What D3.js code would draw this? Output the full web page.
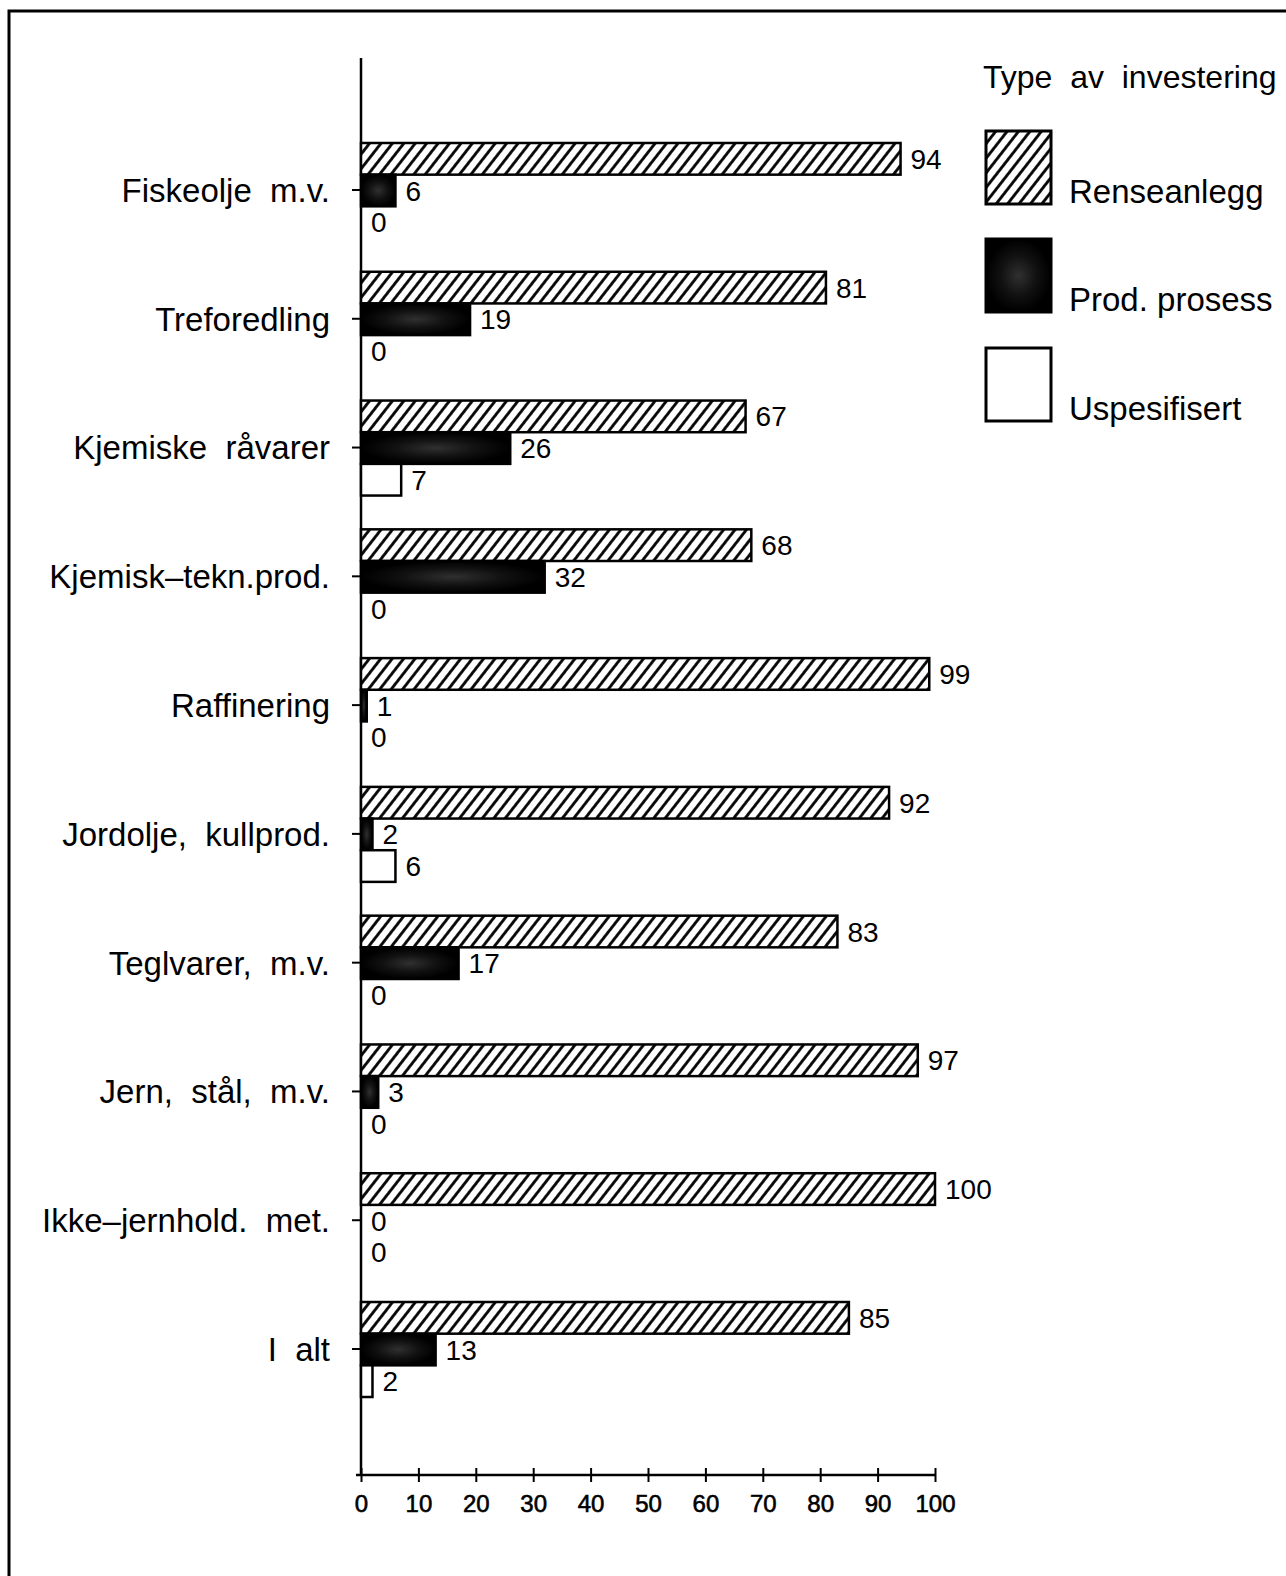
<!DOCTYPE html>
<html>
<head>
<meta charset="utf-8">
<style>
  body { margin: 0; background: #fff; }
  svg text { font-family: "Liberation Sans", Arial, sans-serif; fill: #000; }
</style>
</head>
<body>
<div id="container"></div>
<script src="https://cdn.jsdelivr.net/npm/d3@7"></script>
<script>
// Andel av investeringene etter type (prosent)
const categories = [
  "Fiskeolje  m.v.",
  "Treforedling",
  "Kjemiske  råvarer",
  "Kjemisk–tekn.prod.",
  "Raffinering",
  "Jordolje,  kullprod.",
  "Teglvarer,  m.v.",
  "Jern,  stål,  m.v.",
  "Ikke–jernhold.  met.",
  "I  alt"
];
const seriesNames = ["Renseanlegg", "Prod. prosess", "Uspesifisert"];
const renseanlegg = [94, 81, 67, 68, 99, 92, 83, 97, 100, 85];
const prodProsess = [6, 19, 26, 32, 1, 2, 17, 3, 0, 13];
const uspesifisert = [0, 0, 7, 0, 0, 6, 0, 0, 0, 2];
const xTicks = [0, 10, 20, 30, 40, 50, 60, 70, 80, 90, 100];

const width = 1286, height = 1576;
const svg = d3.select("#container")
  .append("svg")
  .attr("width", width)
  .attr("height", height);

// pattern for the hatched bars
const defs = svg.append("defs");
const hatch = defs.append("pattern")
  .attr("id", "hatch")
  .attr("patternUnits", "userSpaceOnUse")
  .attr("width", 9)
  .attr("height", 9)
  .attr("patternTransform", "rotate(38)");
hatch.append("rect").attr("width", 9).attr("height", 9).attr("fill", "#fff");
hatch.append("line")
  .attr("x1", 1.5).attr("y1", 0).attr("x2", 1.5).attr("y2", 9)
  .attr("stroke", "#000").attr("stroke-width", 2.8);

// dark fill with a little grey speckle
const speck = defs.append("radialGradient").attr("id", "speck");
speck.append("stop").attr("offset", "0%").attr("stop-color", "#303030");
speck.append("stop").attr("offset", "55%").attr("stop-color", "#111");
speck.append("stop").attr("offset", "100%").attr("stop-color", "#000");

const fills = ["url(#hatch)", "url(#speck)", "#fff"];

// frame
svg.append("rect")
  .attr("x", 9).attr("y", 11)
  .attr("width", 1300).attr("height", 1600)
  .attr("fill", "none")
  .attr("stroke", "#000")
  .attr("stroke-width", 3);

const x0 = 361, x1 = 935;
const x = d3.scaleLinear().domain([0, 100]).range([x0, x1]);
const y = d3.scaleBand().domain(categories).range([125.6, 1413.4]);
const inner = d3.scaleBand().domain(seriesNames).range([-47, 48]);

const rows = categories.map((c, i) => ({
  cat: c,
  vals: [renseanlegg[i], prodProsess[i], uspesifisert[i]]
}));

const g = svg.append("g");

// y axis line
g.append("line")
  .attr("x1", x0).attr("x2", x0)
  .attr("y1", 58).attr("y2", 1475)
  .attr("stroke", "#000").attr("stroke-width", 2.5);

// x axis
const xAxis = g.append("g")
  .attr("transform", "translate(0,1475)")
  .call(d3.axisBottom(x).tickValues(xTicks).tickSize(7).tickSizeOuter(0).tickPadding(10));
xAxis.select(".domain").attr("stroke-width", 2.5).attr("d", `M${x0 - 5},0H${x1}`);
xAxis.selectAll(".tick line")
  .attr("y1", -7).attr("y2", 7)
  .attr("stroke-width", 2);
xAxis.selectAll(".tick text")
  .attr("font-size", 24)
  .attr("font-family", "Liberation Sans, Arial, sans-serif")
  .attr("stroke", "#000")
  .attr("stroke-width", 0.6)
  .attr("dy", "0.85em");

const grp = g.selectAll(".grp")
  .data(rows)
  .join("g")
  .attr("class", "grp")
  .attr("transform", d => `translate(0,${y(d.cat) + y.bandwidth() / 2})`);

// category ticks
grp.append("line")
  .attr("x1", x0 - 9).attr("x2", x0)
  .attr("y1", 0).attr("y2", 0)
  .attr("stroke", "#000").attr("stroke-width", 2);

// category labels
grp.append("text")
  .attr("x", 330)
  .attr("y", 0)
  .attr("dy", "0.36em")
  .attr("text-anchor", "end")
  .attr("font-size", 33)
  .style("white-space", "pre")
  .text(d => d.cat);

const bars = grp.selectAll(".bar")
  .data(d => d.vals.map((v, j) => ({ v, j })))
  .join("g")
  .attr("class", "bar");

bars.filter(d => d.v > 0)
  .append("rect")
  .attr("x", x0)
  .attr("y", d => inner(seriesNames[d.j]))
  .attr("width", d => x(d.v) - x0)
  .attr("height", inner.bandwidth())
  .attr("fill", d => fills[d.j])
  .attr("stroke", "#000")
  .attr("stroke-width", 2.5);

bars.append("text")
  .attr("x", d => x(d.v) + 10)
  .attr("y", d => inner(seriesNames[d.j]) + inner.bandwidth() / 2)
  .attr("dy", "0.36em")
  .attr("font-size", 28)
  .text(d => d.v);

// legend
const leg = svg.append("g");
leg.append("text")
  .attr("x", 983).attr("y", 88)
  .attr("font-size", 32)
  .style("white-space", "pre")
  .text("Type  av  investering");

const legTops = [131, 239, 348];
seriesNames.forEach((s, i) => {
  leg.append("rect")
    .attr("x", 986).attr("y", legTops[i])
    .attr("width", 65).attr("height", 73)
    .attr("fill", fills[i])
    .attr("stroke", "#000")
    .attr("stroke-width", 3);
  leg.append("text")
    .attr("x", 1069).attr("y", legTops[i] + 72)
    .attr("font-size", 33)
    .text(s);
});
</script>
</body>
</html>
